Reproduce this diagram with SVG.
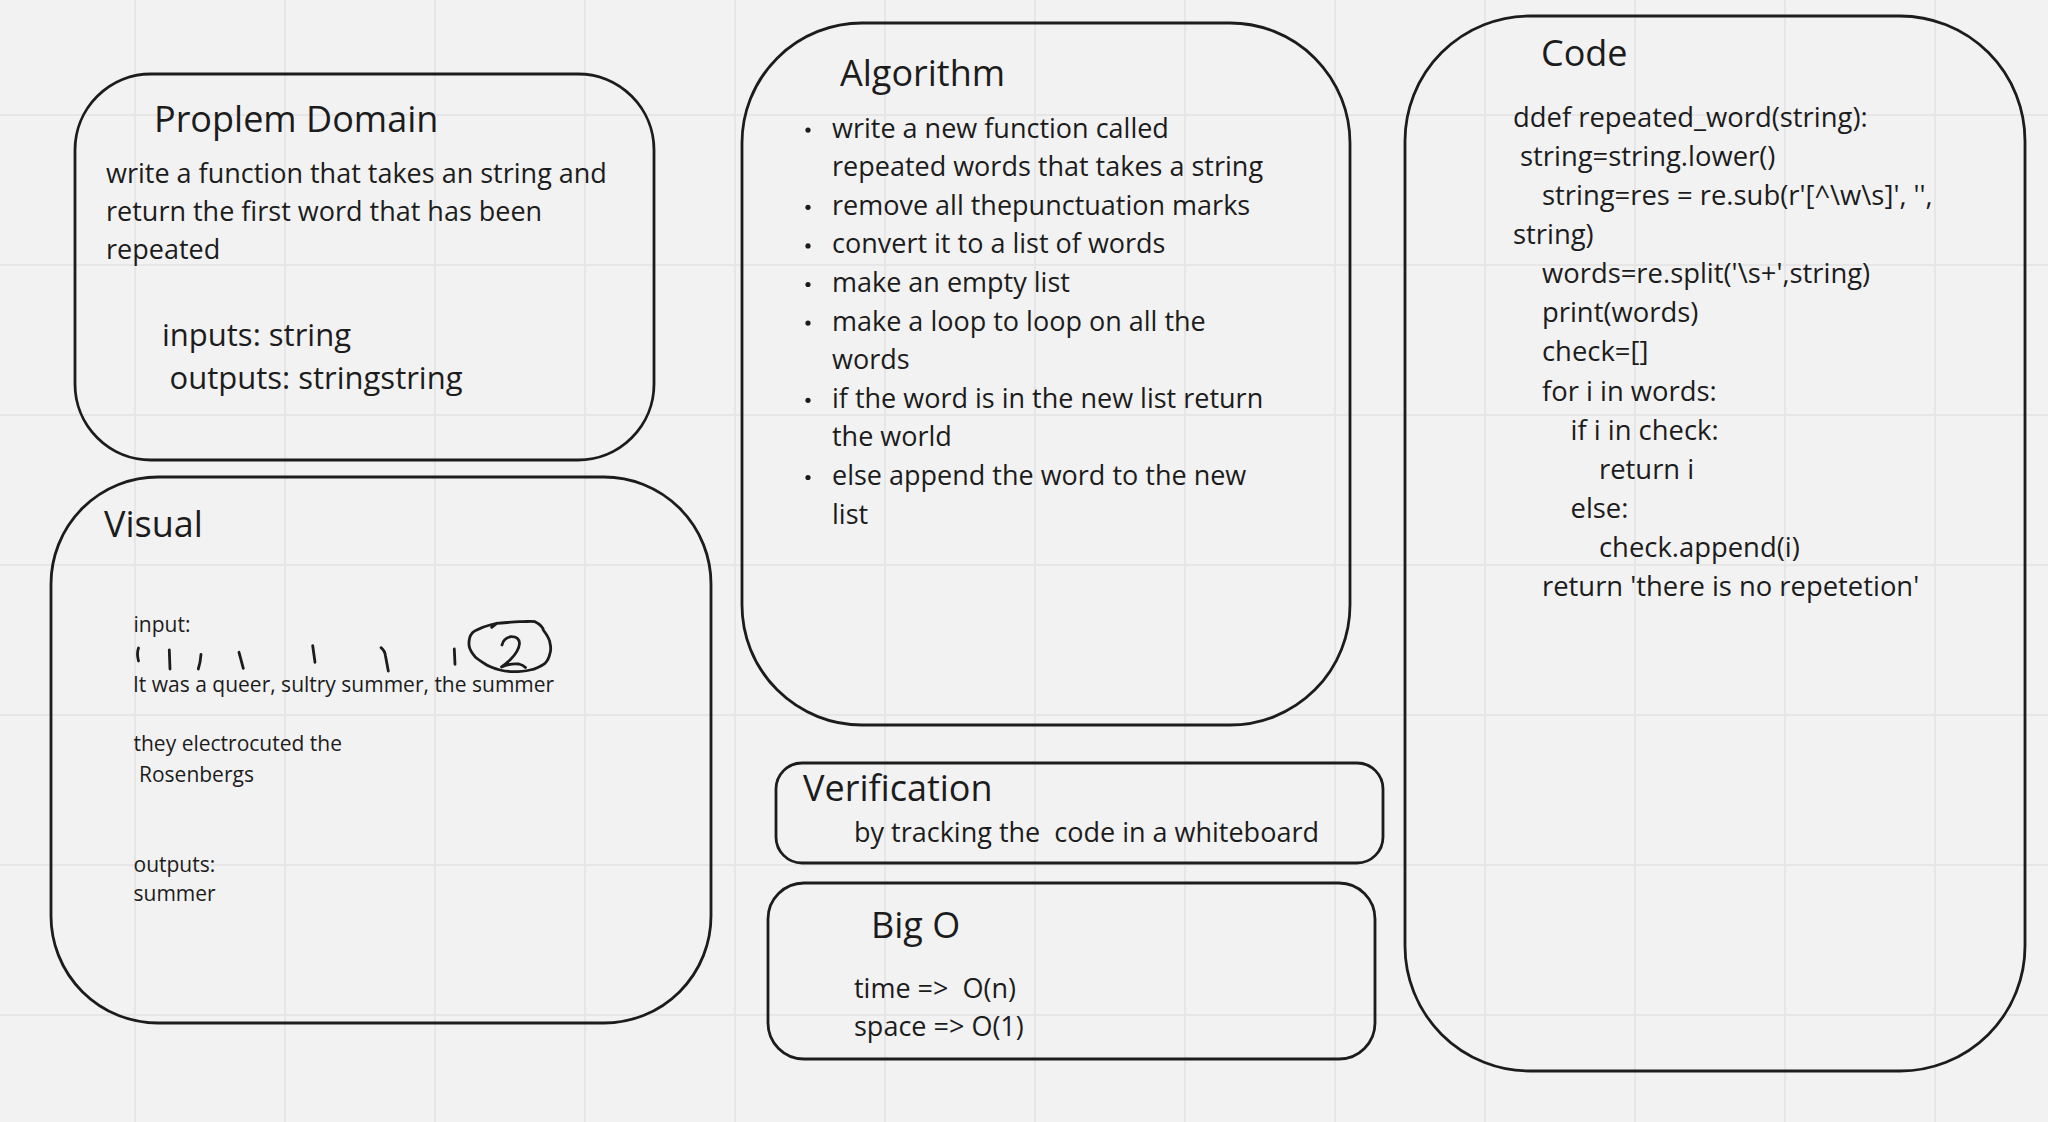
<svg xmlns="http://www.w3.org/2000/svg" width="2048" height="1122" viewBox="0 0 2048 1122">
<style>
.bg{fill:#f2f2f2}
.grid{stroke:#e6e6e6;stroke-width:2;fill:none}
.box{fill:none;stroke:#1c1c1c;stroke-width:2.8}
text{font-family:"Open Sans","Noto Sans","DejaVu Sans",sans-serif;fill:#1c1c1c}
.title{font-size:36px}
.body{font-size:27px}
.code{font-size:27.4px}
.big{font-size:31px}
.small{font-size:21px}
.ink{fill:none;stroke:#1c1c1c;stroke-width:2.8;stroke-linecap:round;stroke-linejoin:round}
.bullet{fill:#1c1c1c}
</style>
<rect class="bg" x="0" y="0" width="2048" height="1122"/>
<path class="grid" d="M135 0V1122M285 0V1122M435 0V1122M585 0V1122M735 0V1122M885 0V1122M1035 0V1122M1185 0V1122M1335 0V1122M1485 0V1122M1635 0V1122M1785 0V1122M1935 0V1122M0 115H2048M0 265H2048M0 415H2048M0 565H2048M0 715H2048M0 865H2048M0 1015H2048"/>

<g id="problem-domain">
<rect class="box" x="75" y="74" width="579" height="386" rx="76"/>
<text class="title" x="154" y="132">Proplem Domain</text>
<text class="body" x="106" y="182.5">write a function that takes an string and</text>
<text class="body" x="106" y="220.8">return the first word that has been</text>
<text class="body" x="106" y="259.1">repeated</text>
<text class="big" x="162" y="346.3">inputs: string</text>
<text class="big" x="169.5" y="389.3">outputs: stringstring</text>
</g>

<g id="visual">
<rect class="box" x="51" y="477" width="660" height="546" rx="107"/>
<text class="title" x="104" y="537">Visual</text>
<text class="small" x="133.5" y="632">input:</text>
<text class="small" x="133" y="692">It was a queer, sultry summer, the summer</text>
<text class="small" x="133.5" y="751">they electrocuted the</text>
<text class="small" x="139" y="782">Rosenbergs</text>
<text class="small" x="133.5" y="872">outputs:</text>
<text class="small" x="133.5" y="901">summer</text>
<g id="visual-marks">
<path class="ink" d="M138.5 648Q136.5 653 138.5 661"/>
<path class="ink" d="M169.3 650L170 669"/>
<path class="ink" d="M201 654.3Q200.5 662 198.3 669"/>
<path class="ink" d="M239 652.3L243.3 668.3"/>
<path class="ink" d="M312.7 645.7L315 662.3"/>
<path class="ink" d="M381 647.7Q385 651 385.5 656L388.3 671"/>
<path class="ink" d="M454.3 649L455 664.3"/>
<path class="ink" d="M491.7 627.3L496.7 623.3C505 623 512 621.7 520 621.7C527 621.7 532 621 535 621.7C540 624 543.3 628 543.3 630C547 635 550 640 550 643.3C551 647 551 650 550 653.3C549 658 547.5 661 545 663.3C540 667 535 669 530 670C524 671.5 518 671.7 513.3 671.7C508 671.5 503 670.8 500 670C495 668.5 490 667 486.7 665C482 662 478 659.5 475 656.7C472 653 470 650 469.3 646.7C468.5 643 469 640 470 636.7C471.5 633 474 631 476.7 630C481 627.5 486 626 490 625L496.7 623.3"/>
<path class="ink" d="M502 645Q503.5 638 511 636.7Q519.5 636.5 519.5 643.5Q519 651 510 660Q505 664.5 501.5 667Q510 663 519 664Q523 665 525.5 667.5"/>
</g>
</g>

<g id="algorithm">
<rect class="box" x="742" y="23" width="608" height="702" rx="120"/>
<text class="title" x="840" y="86">Algorithm</text>
<circle class="bullet" cx="808" cy="130.1" r="2.6"/>
<circle class="bullet" cx="808" cy="207.3" r="2.6"/>
<circle class="bullet" cx="808" cy="245.9" r="2.6"/>
<circle class="bullet" cx="808" cy="284.5" r="2.6"/>
<circle class="bullet" cx="808" cy="323.1" r="2.6"/>
<circle class="bullet" cx="808" cy="400.3" r="2.6"/>
<circle class="bullet" cx="808" cy="477.5" r="2.6"/>
<text class="body" x="832" y="137.6">write a new function called</text>
<text class="body" x="832" y="176.2">repeated words that takes a string</text>
<text class="body" x="832" y="214.8">remove all thepunctuation marks</text>
<text class="body" x="832" y="253.4">convert it to a list of words</text>
<text class="body" x="832" y="292">make an empty list</text>
<text class="body" x="832" y="330.6">make a loop to loop on all the</text>
<text class="body" x="832" y="369.2">words</text>
<text class="body" x="832" y="407.8">if the word is in the new list return</text>
<text class="body" x="832" y="446.4">the world</text>
<text class="body" x="832" y="485">else append the word to the new</text>
<text class="body" x="832" y="523.6">list</text>
</g>

<g id="code">
<rect class="box" x="1405" y="16" width="620" height="1055" rx="125"/>
<text class="title" x="1541" y="66">Code</text>
<text class="code" x="1513" y="126.5">ddef repeated_word(string):</text>
<text class="code" x="1520" y="165.6">string=string.lower()</text>
<text class="code" x="1542" y="204.8">string=res = re.sub(r'[^\w\s]', '',</text>
<text class="code" x="1513" y="243.9">string)</text>
<text class="code" x="1542" y="283.1">words=re.split('\s+',string)</text>
<text class="code" x="1542" y="322.2">print(words)</text>
<text class="code" x="1542" y="361.4">check=[]</text>
<text class="code" x="1542" y="400.5">for i in words:</text>
<text class="code" x="1570.5" y="439.7">if i in check:</text>
<text class="code" x="1599" y="478.8">return i</text>
<text class="code" x="1570.5" y="518">else:</text>
<text class="code" x="1599" y="557.1">check.append(i)</text>
<text class="code" x="1542" y="596.3">return 'there is no repetetion'</text>
</g>

<g id="verification">
<rect class="box" x="776" y="763" width="607" height="100" rx="26"/>
<text class="title" x="803" y="800.5">Verification</text>
<text class="body" x="854" y="842" xml:space="preserve">by tracking the  code in a whiteboard</text>
</g>

<g id="big-o">
<rect class="box" x="768" y="883" width="607" height="176" rx="36"/>
<text class="title" x="871" y="937.5">Big O</text>
<text class="body" x="854" y="998" xml:space="preserve">time =&gt;  O(n)</text>
<text class="body" x="854" y="1036">space =&gt; O(1)</text>
</g>

<g id="connectors"></g>
</svg>
